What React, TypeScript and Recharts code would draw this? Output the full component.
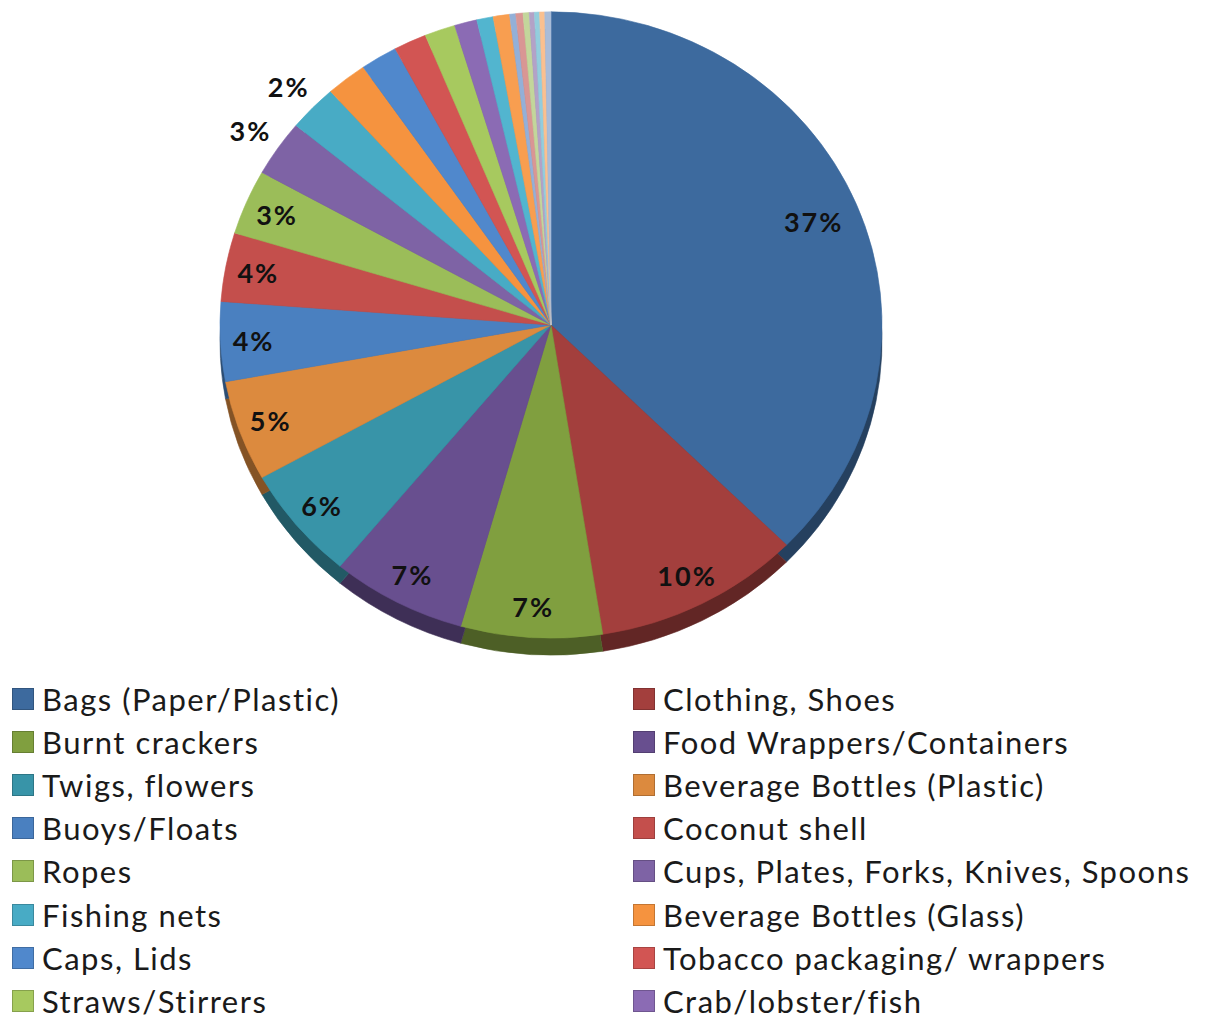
import { PieChart, Pie, Cell, Legend } from 'recharts'

// legend entries (only the first 16 rows are visible in the picture)
const CATEGORIES = [
  'Bags (Paper/Plastic)',
  'Clothing, Shoes',
  'Burnt crackers',
  'Food Wrappers/Containers',
  'Twigs, flowers',
  'Beverage Bottles (Plastic)',
  'Buoys/Floats',
  'Coconut shell',
  'Ropes',
  'Cups, Plates, Forks, Knives, Spoons',
  'Fishing nets',
  'Beverage Bottles (Glass)',
  'Caps, Lids',
  'Tobacco packaging/ wrappers',
  'Straws/Stirrers',
  'Crab/lobster/fish',
]
const SHARES = [37.4, 10.1, 6.9, 6.6, 5.9, 5.2, 4.1, 3.55, 3.35, 2.9, 2.4, 2.0, 1.8, 1.6, 1.5, 1.1]

// thin slices near 12 o'clock whose legend rows are cut off
const MINOR_SHARES = [0.8, 0.8, 0.3, 0.35, 0.3, 0.25, 0.25, 0.25, 0.3]

const COLORS = [
  '#3d6a9e', '#a33f3d', '#809f3f', '#684f8f', '#3894a8', '#dc8a3e',
  '#4a80c0', '#c44f4c', '#9bbd59', '#7e63a5', '#48abc5', '#f5933f',
  '#5088cc', '#d25553', '#a7c95f', '#8b6bb4',
  '#52b5cf', '#f89e50', '#93b0d8', '#d99694', '#c3d69b', '#b3a2c7', '#93cddd', '#fac090', '#a9bcd9',
]

const data = [
  ...CATEGORIES.map((name, i) => ({ name, value: SHARES[i] })),
  ...MINOR_SHARES.map((value, i) => ({ name: `minor ${i + 1}`, value })),
].map((d, i) => ({ ...d, side: `${d.name} (side)`, color: COLORS[i] }))

const RAD = Math.PI / 180
const TILT = 0.946
const DEPTH = 17

function shade(hex: string, f: number) {
  const n = parseInt(hex.slice(1), 16)
  const r = Math.round(((n >> 16) & 255) * f)
  const g = Math.round(((n >> 8) & 255) * f)
  const b = Math.round((n & 255) * f)
  return `rgb(${r},${g},${b})`
}

// pie seen at a slight tilt: draw each sector on an ellipse
function TiltedSector(props: any) {
  const { cx, cy, outerRadius, startAngle, endAngle, fill } = props
  const rx = outerRadius
  const ry = outerRadius * TILT
  const pt = (a: number) => [cx + rx * Math.cos(-a * RAD), cy + ry * Math.sin(-a * RAD)]
  const [x1, y1] = pt(startAngle)
  const [x2, y2] = pt(endAngle)
  const large = Math.abs(endAngle - startAngle) > 180 ? 1 : 0
  const sweep = startAngle > endAngle ? 1 : 0
  const d = `M${cx},${cy} L${x1},${y1} A${rx},${ry} 0 ${large} ${sweep} ${x2},${y2} Z`
  return <path d={d} fill={fill} stroke={fill} strokeWidth={0.6} />
}

function renderLabel(props: any) {
  const { cx, cy, midAngle, outerRadius, percent, index } = props
  if (index > 10) return null
  const f = index >= 9 ? 1.1 : index === 0 ? 0.86 : 0.9
  const x = cx + outerRadius * f * Math.cos(-midAngle * RAD)
  const y = cy + outerRadius * TILT * f * Math.sin(-midAngle * RAD)
  return (
    <text
      x={x}
      y={y}
      textAnchor="middle"
      dominantBaseline="central"
      fill="#111"
      fontSize={27}
      fontWeight={700}
      letterSpacing={2}
      fontFamily="Lato, sans-serif"
    >
      {`${Math.round(percent * 100)}%`}
    </text>
  )
}

function LegendGrid({ payload }: any) {
  const items = (payload || [])
    .filter((p: any) => CATEGORIES.includes(p.value))
    .sort((a: any, b: any) => CATEGORIES.indexOf(a.value) - CATEGORIES.indexOf(b.value))
  return (
    <div
      style={{
        display: 'grid',
        gridTemplateColumns: '621px 1fr',
        gridAutoRows: '43.2px',
        fontFamily: 'Lato, sans-serif',
        fontSize: 31,
        letterSpacing: 1.5,
        color: '#1a1a1a',
      }}
    >
      {items.map((p: any) => (
        <div key={p.value} style={{ display: 'flex', alignItems: 'center', whiteSpace: 'nowrap' }}>
          <span
            style={{
              width: 20,
              height: 20,
              background: p.color,
              border: `1px solid ${shade(p.color.startsWith('#') ? p.color : '#777777', 0.8)}`,
              marginRight: 8,
              flex: 'none',
            }}
          />
          {p.value}
        </div>
      ))}
    </div>
  )
}

export default function App() {
  return (
    <div style={{ position: 'absolute', left: 0, top: 0, background: '#fff', fontFamily: 'Lato, sans-serif' }}>
      <PieChart width={1206} height={1018} margin={{ top: 0, right: 0, bottom: 0, left: 0 }}>
        {/* darker copy offset downwards gives the pie its rim */}
        <Pie
          data={data}
          dataKey="value"
          nameKey="side"
          cx={551}
          cy={325 + DEPTH}
          outerRadius={331}
          startAngle={90}
          endAngle={-270}
          legendType="none"
          isAnimationActive={false}
          shape={TiltedSector}
          activeShape={TiltedSector}
          inactiveShape={TiltedSector}
        >
          {data.map((d) => (
            <Cell key={d.side} fill={shade(d.color, 0.6)} />
          ))}
        </Pie>
        <Pie
          data={data}
          dataKey="value"
          nameKey="name"
          cx={551}
          cy={325}
          outerRadius={331}
          startAngle={90}
          endAngle={-270}
          isAnimationActive={false}
          shape={TiltedSector}
          activeShape={TiltedSector}
          inactiveShape={TiltedSector}
          label={renderLabel}
          labelLine={false}
        >
          {data.map((d) => (
            <Cell key={d.name} fill={d.color} />
          ))}
        </Pie>
        <Legend
          content={<LegendGrid />}
          wrapperStyle={{ top: 677, left: 12, width: 1194, bottom: 'auto' }}
        />
      </PieChart>
    </div>
  )
}
